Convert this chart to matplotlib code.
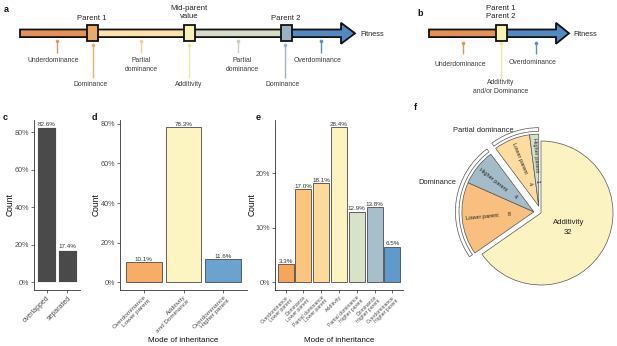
import numpy as np
import matplotlib
matplotlib.use('Agg')
import matplotlib.pyplot as plt
from matplotlib.patches import Rectangle, Polygon

plt.rcParams['font.family'] = ['Liberation Sans', 'DejaVu Sans']

W, H = 617, 346

# ---- data ----
c_labels = ['overlapped', 'separated']
c_values = [82.6, 17.4]

d_labels = ['Overdominance\nLower parent', 'Additivity\nand Dominance', 'Overdominance\nHigher parent']
d_values = [10.1, 78.3, 11.6]
d_colors = ['#F8AD66', '#FCF4C1', '#6AA3D0']

e_labels = ['Overdominance\nLower parent', 'Dominance\nLower parent', 'Partial dominance\nLower parent',
            'Additivity', 'Partial dominance\nHigher parent', 'Dominance\nHigher parent',
            'Overdominance\nHigher parent']
e_values = [3.3, 17.0, 18.1, 28.4, 12.9, 13.8, 6.5]
e_colors = ['#F5A65B', '#FBC47F', '#FDDA9B', '#FBF4C0', '#D7E2C9', '#A7BFCB', '#5F9ACC']

f_names = ['Additivity', 'Lower parent', 'Higher parent', 'Lower parent', 'Higher parent']
f_counts = [32, 8, 4, 4, 1]
f_groups = ['Additivity', 'Dominance', 'Dominance', 'Partial dominance', 'Partial dominance']
f_colors = ['#FBF3C1', '#F8BF7F', '#A3BCC7', '#FCDD9F', '#D3DFC9']

# ---- schematic (panels a, b) in pixel units ----
a_segments = [(20, 92, '#E3915A'), (92, 189, '#FBE1AA'), (189, 286, '#D4DEC6'), (286, 341, '#5189C0')]
a_boxes = [(92, 'Parent 1', '#EAAA6B'), (189, 'Mid-parent\nvalue', '#F8F1B6'), (286, 'Parent 2', '#9AB1C3')]
a_pins = [  # x, y top, y bottom, label, label x, label y, colour
    (57, 41, 53, 'Underdominance', 53, 61, '#E0955C'),
    (93, 45, 78, 'Dominance', 91, 84, '#E8B173'),
    (141, 41, 53, 'Partial\ndominance', 141, 65, '#F2D38A'),
    (189, 45, 78, 'Additivity', 189, 84, '#F0E79A'),
    (238, 41, 53, 'Partial\ndominance', 242, 65, '#C6D1B8'),
    (285, 45, 78, 'Dominance', 283, 84, '#9CB5CB'),
    (321, 41, 53, 'Overdominance', 318, 61, '#5A8FC2'),
]
b_segments = [(429, 501, '#E3915A'), (501, 556, '#5189C0')]
b_pins = [
    (463, 43, 54, 'Underdominance', 460, 64, '#E0955C'),
    (501, 43, 78, 'Additivity\nand/or Dominance', 501, 87, '#F0E79A'),
    (536, 43, 54, 'Overdominance', 533, 63, '#5A8FC2'),
]

fig = plt.figure(figsize=(W / 100, H / 100), dpi=100)
ax0 = fig.add_axes([0, 0, 1, 1])
ax0.set_xlim(0, W)
ax0.set_ylim(H, 0)
ax0.axis('off')

TXT = '#3C3C3C'


def draw_arrow(ax, segs, head_x0, head_x1, yc=33.3, hb=3.8, hh=10.5):
    for x0, x1, col in segs:
        ax.add_patch(Rectangle((x0, yc - hb), x1 - x0, 2 * hb, fc=col, ec='none'))
    head = [(head_x0, yc - hh), (head_x1, yc), (head_x0, yc + hh)]
    ax.add_patch(Polygon(head, closed=True, fc=segs[-1][2], ec='none'))
    x_start = segs[0][0]
    outline = [(x_start, yc - hb), (head_x0, yc - hb), (head_x0, yc - hh), (head_x1, yc),
               (head_x0, yc + hh), (head_x0, yc + hb), (x_start, yc + hb)]
    ax.add_patch(Polygon(outline, closed=True, fill=False, ec='#111111', lw=1.3, joinstyle='miter'))


def draw_box(ax, x, col, yc=33.3):
    ax.add_patch(Rectangle((x - 5.5, yc - 8), 11, 16, fc=col, ec='#111111', lw=1.3, zorder=3))


def draw_pins(ax, pins):
    for x, y0, y1, lab, lx, ly, col in pins:
        ax.plot([x, x], [y0, y1], color=col, lw=1.0, solid_capstyle='butt')
        ax.plot([x], [y0], 'o', color=col, ms=2.6, mec='none')
        ax.text(lx, ly, lab, ha='center', va='center', fontsize=4.9, color=TXT, linespacing=1.25)


# panel a
draw_arrow(ax0, a_segments, 341, 355)
for x, lab, col in a_boxes:
    draw_box(ax0, x, col)
ax0.text(92, 18, 'Parent 1', ha='center', va='center', fontsize=5.6, color='#222')
ax0.text(189, 12.5, 'Mid-parent\nvalue', ha='center', va='center', fontsize=5.6, color='#222', linespacing=1.3)
ax0.text(286, 18, 'Parent 2', ha='center', va='center', fontsize=5.6, color='#222')
ax0.text(360, 34, 'Fitness', ha='left', va='center', fontsize=5.3, color='#222')
draw_pins(ax0, a_pins)

# panel b
draw_arrow(ax0, b_segments, 556, 569)
draw_box(ax0, 501, '#F8F1B6')
ax0.text(501, 12.5, 'Parent 1\nParent 2', ha='center', va='center', fontsize=5.6, color='#222', linespacing=1.3)
ax0.text(573, 34, 'Fitness', ha='left', va='center', fontsize=5.3, color='#222')
draw_pins(ax0, b_pins)

# panel letters
for lab, x, y in [('a', 4, 10), ('b', 417, 14), ('c', 3, 117), ('d', 92, 117), ('e', 256, 117), ('f', 414, 108)]:
    ax0.text(x, y, lab, ha='left', va='center', fontsize=6.5, fontweight='bold', color='#111')

# ---- bar panels ----
bot = 1 - 290 / H
hgt = (290 - 119.5) / H


def bar_panel(left_px, width_px, labels, values, colors, yticks, ylab_x, xfs, edge='#4A4A4A', xlabel=None):
    ax = fig.add_axes([left_px / W, bot, width_px / W, hgt])
    x = np.arange(1, len(values) + 1)
    ax.bar(x, values, width=0.9, color=colors, edgecolor=edge, linewidth=0.6)
    for xi, v in zip(x, values):
        ax.annotate(f'{v:.1f}%', (xi, v), xytext=(0, 0.3), textcoords='offset points',
                    ha='center', va='bottom', fontsize=4.5, color='#333')
    top = max(values)
    ax.set_xlim(0.4, len(values) + 0.6)
    ax.set_ylim(-0.05 * top, 1.05 * top)
    ax.set_yticks(yticks)
    ax.set_yticklabels([f'{t}%' for t in yticks])
    ax.set_xticks(x)
    ax.set_xticklabels(labels, rotation=45, ha='right', va='top', rotation_mode='anchor',
                       fontsize=xfs, linespacing=1.0)
    for s in ['top', 'right']:
        ax.spines[s].set_visible(False)
    for s in ['left', 'bottom']:
        ax.spines[s].set_linewidth(0.6)
        ax.spines[s].set_color('#333333')
    ax.tick_params(length=2.2, width=0.5, color='#333333', labelcolor='#4D4D4D', pad=1.2)
    ax.tick_params(axis='y', labelsize=5.2)
    ax.set_ylabel('Count', fontsize=6.2, color='#111')
    ax.yaxis.set_label_coords(ylab_x, 0.5)
    if xlabel:
        ax.set_xlabel(xlabel, fontsize=5.8, color='#111')
        ax.xaxis.set_label_coords(0.5, -0.275)
    return ax


bar_panel(34, 46, c_labels, c_values, ['#4A4A4A'] * 2, [0, 20, 40, 60, 80], -0.42, 5.0, edge='white')
bar_panel(120, 127, d_labels, d_values, d_colors, [0, 20, 40, 60, 80], -0.15, 4.6,
          xlabel='Mode of inheritance')
bar_panel(275, 128, e_labels, e_values, e_colors, [0, 10, 20], -0.14, 3.7,
          xlabel='Mode of inheritance')

# ---- pie panel f ----
R = 72.0
cx, cy = 541, 213
S = 240
ax_f = fig.add_axes([(cx - S / 2) / W, (H - cy - S / 2) / H, S / W, S / H])

total = sum(f_counts)
bounds = 90 - np.cumsum([0] + f_counts) * 360.0 / total
groups = list(dict.fromkeys(f_groups))
group_counts = [sum(c for c, g in zip(f_counts, f_groups) if g == grp) for grp in groups]
explode = 0.1
offsets = {}
for grp in groups:
    idx = [i for i, g in enumerate(f_groups) if g == grp]
    mid = np.deg2rad((bounds[idx[0]] + bounds[idx[-1] + 1]) / 2)
    e = 0 if grp == 'Additivity' else explode
    offsets[grp] = (e * np.cos(mid), e * np.sin(mid))

for grp in groups:
    off = offsets[grp]
    wedges, _ = ax_f.pie(f_counts, colors=f_colors, startangle=90, counterclock=False, center=off,
                         radius=1, wedgeprops=dict(edgecolor='#555555', linewidth=0.5))
    for i, w in enumerate(wedges):
        w.set_visible(f_groups[i] == grp)
    if grp != 'Additivity':
        ring, _ = ax_f.pie(group_counts, startangle=90, counterclock=False, center=off, radius=1.09,
                           wedgeprops=dict(width=0.05, facecolor='white', edgecolor='#555555', linewidth=0.5))
        for j, w in enumerate(ring):
            w.set_visible(groups[j] == grp)

for i, (name, cnt, grp) in enumerate(zip(f_names, f_counts, f_groups)):
    mid = (bounds[i] + bounds[i + 1]) / 2
    m = np.deg2rad(mid)
    ox, oy = offsets[grp]
    if grp == 'Additivity':
        ax_f.text(0.43 * np.cos(m), 0.43 * np.sin(m), f'{name}\n{cnt}', ha='center', va='center',
                  fontsize=5.6, color='#222', linespacing=1.5)
        continue
    rot = mid - 180
    ax_f.text(ox + 0.72 * np.cos(m), oy + 0.72 * np.sin(m), name, rotation=rot, ha='center', va='center',
              fontsize=4.1, color='#222', rotation_mode='anchor')
    ax_f.text(ox + 0.34 * np.cos(m), oy + 0.34 * np.sin(m), str(cnt), rotation=rot, ha='center', va='center',
              fontsize=4.1, color='#222', rotation_mode='anchor')

ax_f.text(-1.17, 0.42, 'Dominance', ha='right', va='center', fontsize=5.4, color='#222')
ax_f.text(-0.8, 1.15, 'Partial dominance', ha='center', va='center', fontsize=5.4, color='#222')
L = S / 2 / R
ax_f.set_xlim(-L, L)
ax_f.set_ylim(-L, L)
ax_f.set_aspect('equal')
ax_f.axis('off')

fig.savefig('out.png', dpi=100)
